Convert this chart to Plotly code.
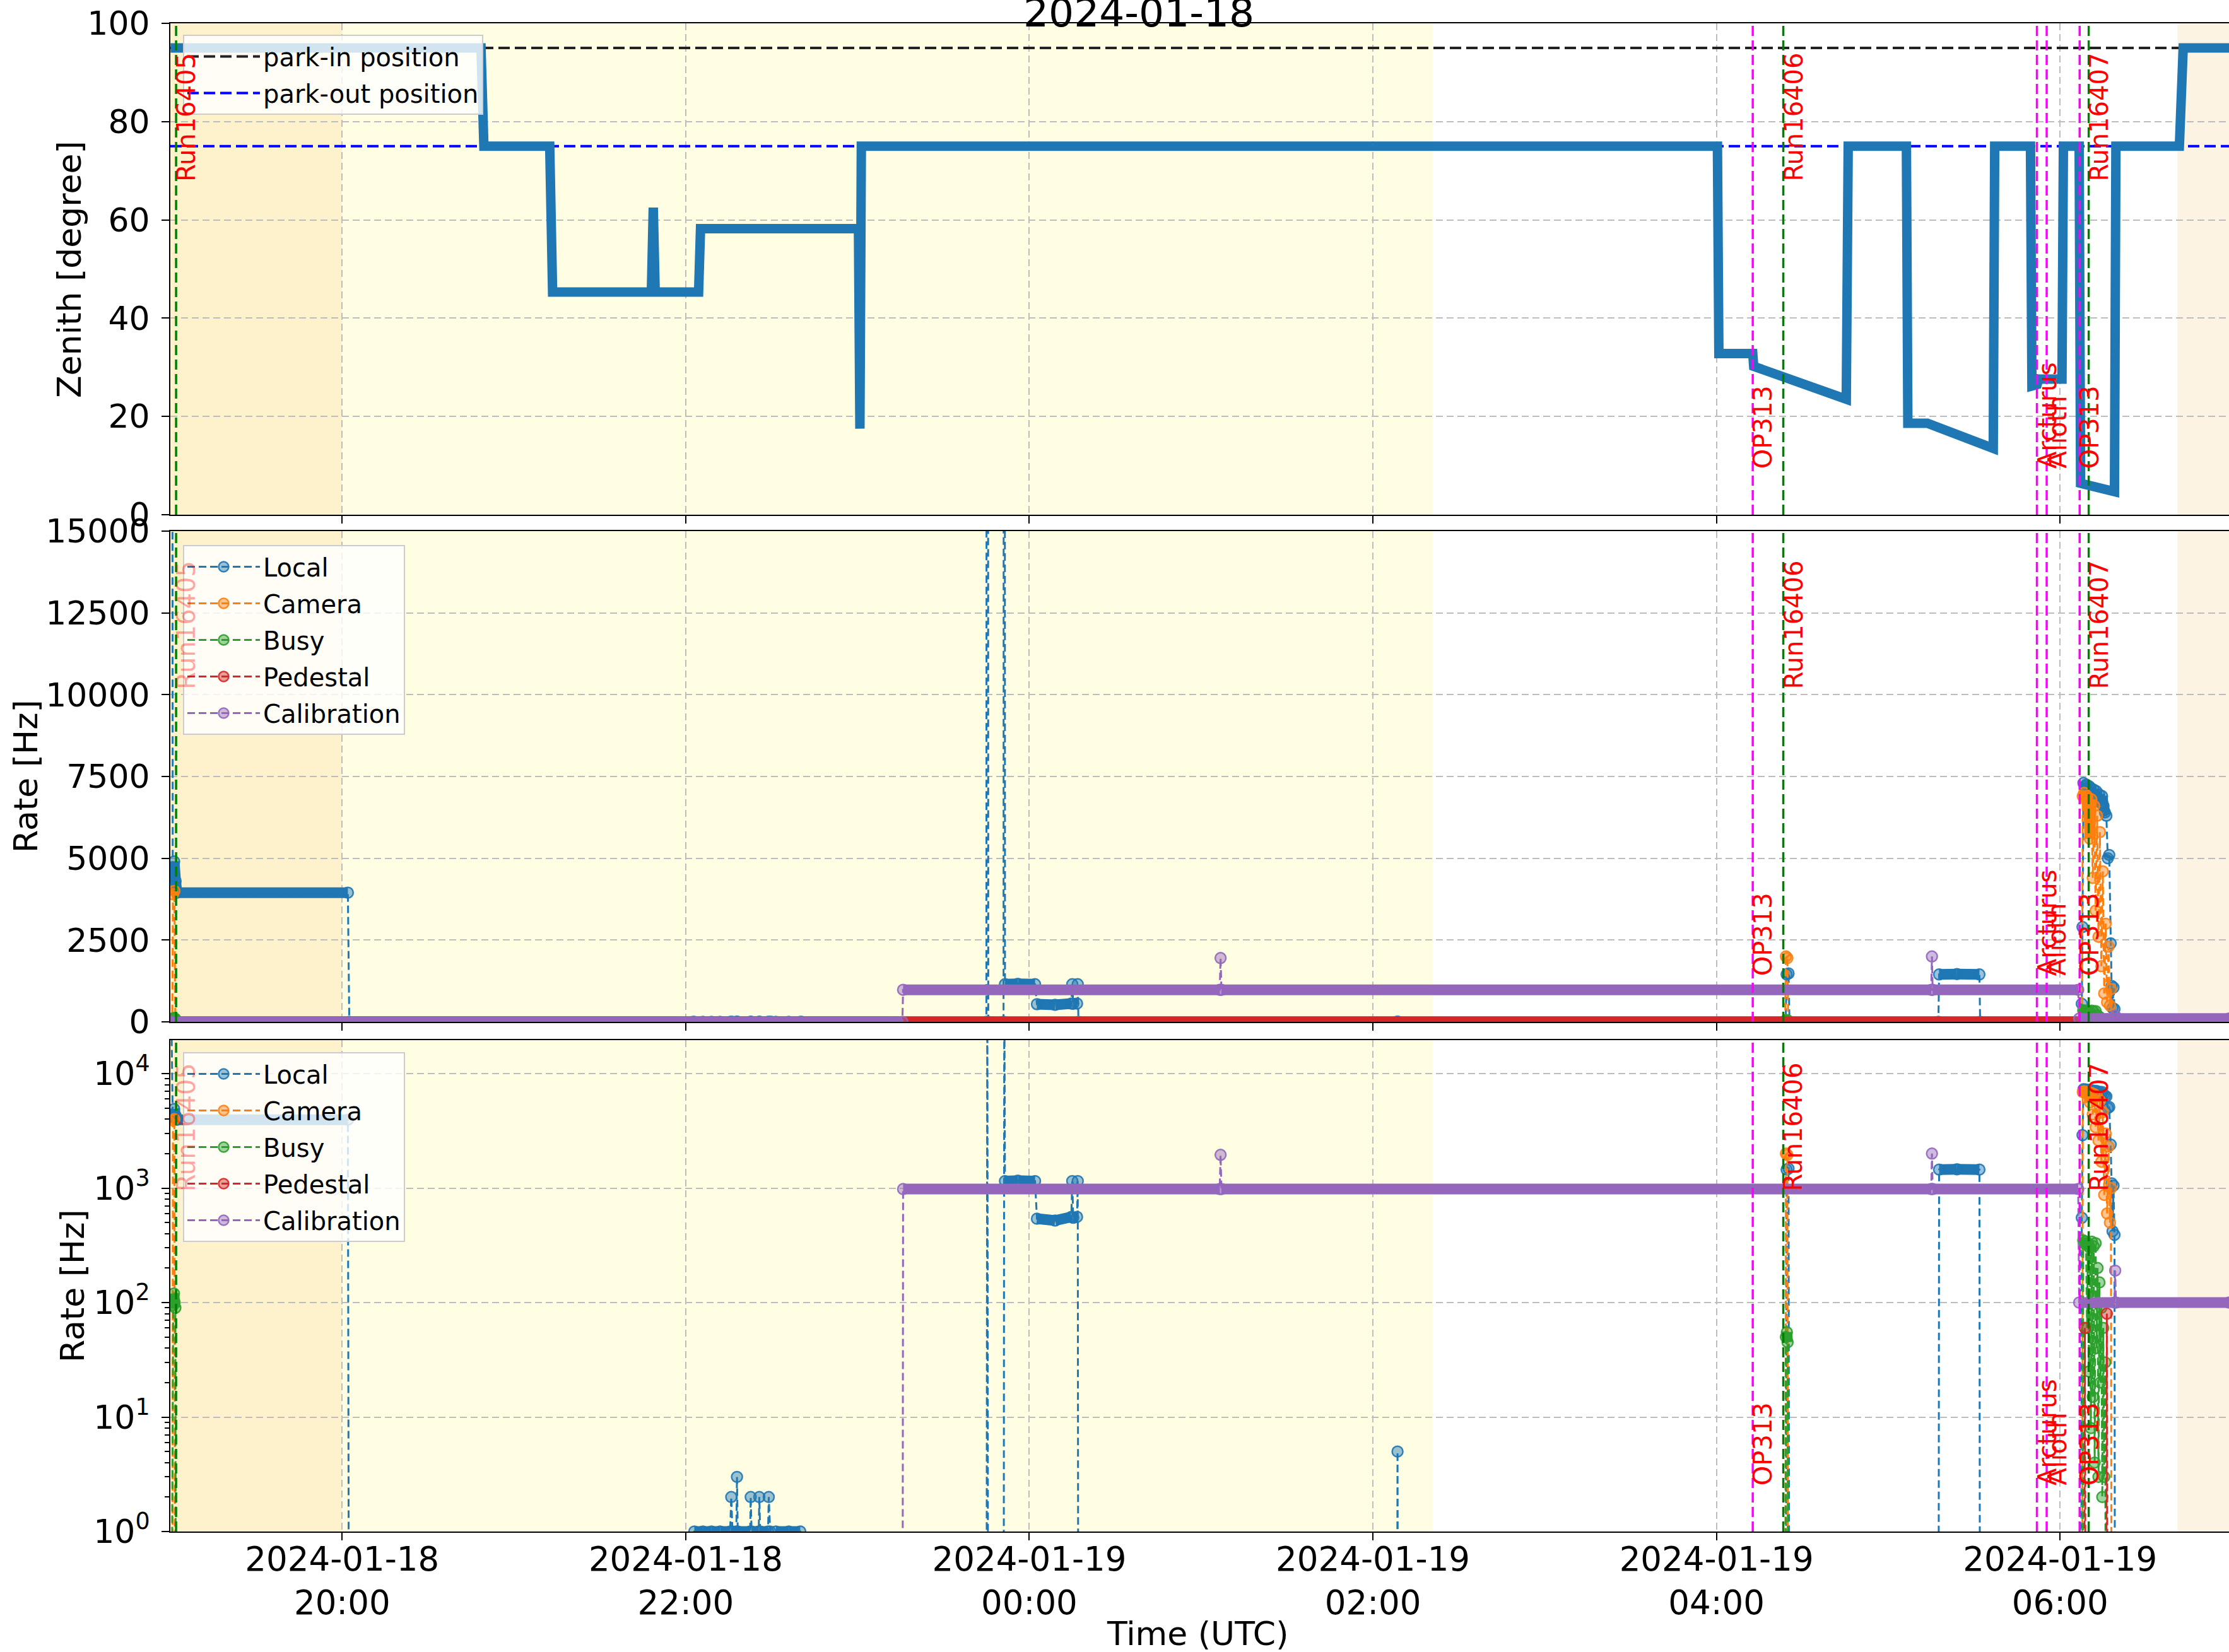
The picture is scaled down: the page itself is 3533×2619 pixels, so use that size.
import plotly.graph_objects as go


def _d(lst):
    return ["2024-01-" + s for s in lst]


# ---------------- data ----------------
X_RANGE = _d(["18 19:00:00", "19 06:59:00"])
TICK_TIMES = _d(["18 20:00", "18 22:00", "19 00:00", "19 02:00", "19 04:00", "19 06:00"])
TICK_LABELS = ["2024-01-18<br>20:00", "2024-01-18<br>22:00", "2024-01-19<br>00:00",
               "2024-01-19<br>02:00", "2024-01-19<br>04:00", "2024-01-19<br>06:00"]

SHADE_DUSK = _d(["18 18:50", "18 20:00"])
SHADE_NIGHT = _d(["18 20:00", "19 02:21"])
SHADE_DAWN = _d(["19 06:41", "19 07:10"])

RUN_TIMES = _d(["18 19:02:00", "19 04:23:20", "19 06:10:00"])
RUN_LABELS = ["Run16405", "Run16406", "Run16407"]
OBJ_TIMES = _d(["19 04:12:40", "19 05:51:55", "19 05:55:20", "19 06:06:50"])
OBJ_LABELS = ["OP313", "Arcturus", "Alioth", "OP313"]

PARK_IN_DEG = 95
PARK_OUT_DEG = 75

ZEN_T = _d(["18 19:00:05", "18 20:48:30", "18 20:49:30", "18 21:12:30", "18 21:13:30",
            "18 21:48:00", "18 21:48:40", "18 21:49:20", "18 22:04:30", "18 22:05:10",
            "18 23:00:20", "18 23:00:50", "18 23:01:20", "19 04:00:20", "19 04:00:50",
            "19 04:12:40", "19 04:13:00", "19 04:45:20", "19 04:46:00", "19 05:06:20",
            "19 05:06:50", "19 05:13:40", "19 05:36:40", "19 05:37:10", "19 05:49:40",
            "19 05:50:10", "19 05:52:00", "19 05:52:30", "19 06:00:40", "19 06:01:10",
            "19 06:06:40", "19 06:07:10", "19 06:19:00", "19 06:19:30", "19 06:41:40",
            "19 06:43:00", "19 07:00:00"])
ZEN_DEG = [95, 95, 75, 75, 45.3,
           45.3, 62.5, 45.3, 45.3, 58.2,
           58.2, 17.5, 75, 75, 32.8,
           32.8, 30.2, 23.5, 75, 75,
           18.6, 18.6, 13.5, 75, 75,
           26.2, 26.5, 27.6, 27.6, 75,
           75, 6.4, 4.7, 75, 75,
           95, 95]

LOCAL_T = _d(["18 19:00:05", "18 19:00:50", "18 19:01:20", "18 19:01:50", "18 19:02:20",
              "18 20:02:00", "18 20:02:30", "18 22:02:30", "18 22:03:00", "18 22:06:00",
              "18 22:09:00", "18 22:12:00", "18 22:15:30", "18 22:15:54", "18 22:16:20",
              "18 22:17:40", "18 22:17:54", "18 22:18:10", "18 22:22:30", "18 22:22:42",
              "18 22:23:00", "18 22:25:30", "18 22:25:42", "18 22:26:00", "18 22:28:45",
              "18 22:29:00", "18 22:29:30", "18 22:30:00", "18 22:31:30", "18 22:36:00",
              "18 22:40:00", "18 22:40:30", "18 23:45:00", "18 23:45:20", "18 23:45:40",
              "18 23:51:00", "18 23:51:15", "18 23:51:30", "18 23:56:00", "19 00:02:00",
              "19 00:02:40", "19 00:09:00", "19 00:14:40", "19 00:15:00", "19 00:15:20",
              "19 00:16:40", "19 00:16:55", "19 00:17:10", "19 02:08:20", "19 02:08:36",
              "19 02:08:52", "19 04:24:10", "19 04:24:30", "19 04:25:10", "19 04:25:30",
              "19 05:17:30", "19 05:17:45", "19 05:24:00", "19 05:31:50", "19 05:32:05",
              "19 06:07:20", "19 06:07:35", "19 06:07:50", "19 06:08:10", "19 06:08:40",
              "19 06:09:10", "19 06:09:40", "19 06:10:10", "19 06:10:40", "19 06:11:10",
              "19 06:11:40", "19 06:12:10", "19 06:12:40", "19 06:13:10", "19 06:13:40",
              "19 06:14:10", "19 06:14:40", "19 06:15:10", "19 06:15:40", "19 06:16:10",
              "19 06:16:40", "19 06:17:10", "19 06:17:40", "19 06:18:00", "19 06:18:20",
              "19 06:18:40", "19 06:19:00", "19 06:19:15", "19 06:59:00"])
LOCAL_HZ = [1e5, 4200, 4900, 4300, 3950,
            3950, 0, 0, 1, 1,
            1, 1, 1, 2, 1,
            1, 3, 1, 1, 2,
            1, 1, 2, 1, 1,
            2, 1, 0, 1, 1,
            1, 0, 0, 1e5, 0,
            0, 1e5, 1150, 1160, 1150,
            540, 520, 560, 1150, 550,
            560, 1150, 0, 0, 5,
            0, 0, 1450, 1480, 0,
            0, 1450, 1460, 1450, 0,
            0, 550, 2900, 7300, 7200,
            7250, 7100, 7200, 7150, 7000,
            7100, 6900, 7050, 6800, 6950,
            6700, 6900, 6600, 6400, 6300,
            5000, 5100, 2400, 1100, 420,
            1050, 390, 0, 0]

CAMERA_T = _d(["18 19:00:05", "18 19:00:40", "18 19:00:55", "18 19:01:25", "18 19:01:45",
               "19 04:24:00", "19 04:24:15", "19 04:24:45", "19 04:25:05", "19 06:07:40",
               "19 06:07:55", "19 06:08:25", "19 06:08:55", "19 06:09:25", "19 06:09:55",
               "19 06:10:25", "19 06:10:55", "19 06:11:25", "19 06:11:55", "19 06:12:25",
               "19 06:12:55", "19 06:13:25", "19 06:13:55", "19 06:14:25", "19 06:14:55",
               "19 06:15:25", "19 06:15:55", "19 06:16:25", "19 06:16:55", "19 06:17:25",
               "19 06:17:45", "19 06:18:05", "19 06:59:00"])
CAMERA_HZ = [0, 0, 3900, 4000, 0,
             0, 2000, 1950, 0, 0,
             6900, 7000, 6800, 6900, 6700,
             5600, 6800, 4400, 6600, 3400,
             6300, 2600, 5800, 1700, 4600,
             870, 3000, 600, 2300, 500,
             1000, 0, 0]

BUSY_T = _d(["18 19:00:05", "18 19:01:00", "18 19:01:15", "18 19:01:30", "18 19:01:45",
             "18 19:02:00", "19 04:24:00", "19 04:24:15", "19 04:24:35", "19 04:24:50",
             "19 04:25:05", "19 06:07:50", "19 06:08:05", "19 06:08:25", "19 06:08:45",
             "19 06:09:05", "19 06:09:25", "19 06:09:45", "19 06:10:05", "19 06:10:25",
             "19 06:10:45", "19 06:11:05", "19 06:11:25", "19 06:11:45", "19 06:12:05",
             "19 06:12:25", "19 06:12:45", "19 06:13:05", "19 06:13:25", "19 06:13:45",
             "19 06:14:05", "19 06:14:25", "19 06:14:45", "19 06:15:05", "19 06:15:25",
             "19 06:15:45", "19 06:16:05", "19 06:59:00"])
BUSY_HZ = [0, 95, 120, 100, 90,
           0, 0, 50, 55, 45,
           0, 0, 350, 330, 340,
           320, 60, 330, 25, 300,
           8, 340, 15, 310, 4,
           330, 40, 200, 3, 150,
           20, 90, 2, 60, 3,
           30, 0, 0]

PED_T = _d(["18 19:00:05", "19 06:08:20", "19 06:08:40", "19 06:09:00", "19 06:16:00",
            "19 06:16:20", "19 06:16:40", "19 06:59:00"])
PED_HZ = [0, 0, 60, 0, 0, 80, 0, 0]

CAL_T = _d(["18 19:00:05", "18 23:15:40", "18 23:15:55", "19 01:06:30", "19 01:06:48",
            "19 01:07:06", "19 05:15:00", "19 05:15:15", "19 05:15:30", "19 06:06:20",
            "19 06:06:40", "19 06:19:00", "19 06:19:15", "19 06:19:30", "19 06:59:00"])
CAL_HZ = [0, 0, 980, 980, 1950,
          980, 980, 2000, 980, 980,
          100, 100, 190, 100, 100]

SERIES_NAMES = ["Local", "Camera", "Busy", "Pedestal", "Calibration"]
SERIES_T = [LOCAL_T, CAMERA_T, BUSY_T, PED_T, CAL_T]
SERIES_HZ = [LOCAL_HZ, CAMERA_HZ, BUSY_HZ, PED_HZ, CAL_HZ]

# ---------------- style ----------------
W, H = 3533, 2619
FONT = "DejaVu Sans"
COLORS = ["#1f77b4", "#ff7f0e", "#2ca02c", "#d62728", "#9467bd"]
X0 = 270 / W
DOMAINS = [[1 - 816 / H, 1 - 37 / H], [1 - 1620 / H, 1 - 842 / H], [1 - 2428 / H, 1 - 1649 / H]]
GRID = "#bdbdbd"


def rgba(hexc, a):
    h = hexc.lstrip("#")
    return "rgba(%d,%d,%d,%.2f)" % (int(h[0:2], 16), int(h[2:4], 16), int(h[4:6], 16), a)


def band_xy(t, v):
    xs, ys = [], []
    for i in range(len(t) - 1):
        a, b = v[i], v[i + 1]
        same = (a == 0 and b == 0) or (a > 0 and b > 0 and max(a, b) / min(a, b) <= 1.25)
        if same:
            xs += [t[i], t[i + 1], None]
            ys += [a, b, None]
    return xs, ys


fig = go.Figure()

# Panel 1: park lines + zenith
fig.add_trace(go.Scatter(x=X_RANGE, y=[PARK_IN_DEG, PARK_IN_DEG], mode="lines",
                         line=dict(color="#222222", width=4, dash="18px,8px"),
                         name="park-in position", legend="legend", xaxis="x", yaxis="y",
                         legendgroup="pin"))
fig.add_trace(go.Scatter(x=X_RANGE, y=[PARK_OUT_DEG, PARK_OUT_DEG], mode="lines",
                         line=dict(color="#0000ff", width=4, dash="18px,8px"),
                         name="park-out position", legend="legend", xaxis="x", yaxis="y",
                         legendgroup="pout"))
fig.add_trace(go.Scatter(x=ZEN_T, y=ZEN_DEG, mode="lines",
                         line=dict(color="#1f77b4", width=15),
                         showlegend=False, xaxis="x", yaxis="y"))

# Panels 2, 3: rates
for p, (xa, ya, lg) in enumerate([("x2", "y2", "legend2"), ("x3", "y3", "legend3")]):
    for name, t, v, c in zip(SERIES_NAMES, SERIES_T, SERIES_HZ, COLORS):
        vv = list(v) if p == 0 else [x if x > 0 else 1e-3 for x in v]
        bx, by = band_xy(t, vv)
        fig.add_trace(go.Scatter(x=bx, y=by, mode="lines", line=dict(color=c, width=17),
                                 showlegend=False, xaxis=xa, yaxis=ya,
                                 legendgroup=lg + name, hoverinfo="skip"))
        fig.add_trace(go.Scatter(x=t, y=vv, mode="lines+markers",
                                 line=dict(color=c, width=3, dash="12px,6px"),
                                 marker=dict(symbol="circle", size=17, color=rgba(c, 0.45),
                                             line=dict(color=rgba(c, 0.9), width=2.5)),
                                 name=name, legend=lg, legendgroup=lg + name,
                                 xaxis=xa, yaxis=ya))

# ---------------- axes ----------------
axis_common = dict(showline=True, linecolor="black", linewidth=2, ticks="outside",
                   ticklen=12, tickwidth=2, tickcolor="black", showgrid=True,
                   gridcolor=GRID, gridwidth=2, griddash="11px,6px", zeroline=False,
                   automargin=False,
                   tickfont=dict(family=FONT, size=52, color="black"))

layout = dict(width=W, height=H, margin=dict(l=0, r=0, t=0, b=0),
              paper_bgcolor="white", plot_bgcolor="white", showlegend=True)

for i, (xn, yn) in enumerate([("xaxis", "yaxis"), ("xaxis2", "yaxis2"), ("xaxis3", "yaxis3")]):
    anchor_y = "y" if i == 0 else "y%d" % (i + 1)
    anchor_x = "x" if i == 0 else "x%d" % (i + 1)
    xa = dict(axis_common, domain=[X0, 1], anchor=anchor_y, type="date", range=X_RANGE,
              tickmode="array", tickvals=TICK_TIMES, ticktext=TICK_LABELS,
              showticklabels=(i == 2), mirror=True, ticklabelstandoff=-16,
              tickfont=dict(family=FONT, size=53, color="black"))
    if i > 0:
        xa["matches"] = "x"
    layout[xn] = xa
    ya = dict(axis_common, domain=DOMAINS[i], anchor=anchor_x, mirror=False,
              ticklabelstandoff=8)
    if i == 0:
        ya.update(range=[0, 100], tickmode="array", tickvals=[0, 20, 40, 60, 80, 100])
    elif i == 1:
        ya.update(range=[0, 15000], tickmode="array",
                  tickvals=[0, 2500, 5000, 7500, 10000, 12500, 15000],
                  ticktext=["0", "2500", "5000", "7500", "10000", "12500", "15000"])
    else:
        ya.update(type="log", range=[0, 4.292], tickmode="array",
                  tickvals=[1, 10, 100, 1000, 10000],
                  ticktext=["10<sup>0</sup>", "10<sup>1</sup>", "10<sup>2</sup>",
                            "10<sup>3</sup>", "10<sup>4</sup>"],
                  minor=dict(ticks="outside", ticklen=7, tickwidth=1.5, tickcolor="black",
                             showgrid=False, tickmode="array",
                             tickvals=[k * 10 ** e for e in range(0, 5) for k in range(2, 10)]))
    layout[yn] = ya

legend_common = dict(xanchor="left", yanchor="top", bgcolor="rgba(255,255,255,0.8)",
                     bordercolor="#cccccc", borderwidth=2,
                     font=dict(family=FONT, size=40, color="black"),
                     itemwidth=115, tracegroupgap=3)
layout["legend"] = dict(legend_common, x=290 / W, y=1 - 55 / H)
layout["legend2"] = dict(legend_common, x=290 / W, y=1 - 864 / H)
layout["legend3"] = dict(legend_common, x=290 / W, y=1 - 1668 / H)

shapes = []
annotations = []
for i in range(3):
    xr = "x" if i == 0 else "x%d" % (i + 1)
    yr = ("y" if i == 0 else "y%d" % (i + 1)) + " domain"
    for (a, b), col in [(SHADE_DUSK, "#fef2cd"), (SHADE_NIGHT, "#fffee3"), (SHADE_DAWN, "#fdf3e2")]:
        shapes.append(dict(type="rect", xref=xr, yref=yr, x0=a, x1=b, y0=0, y1=1,
                           fillcolor=col, line=dict(width=0), layer="below"))
    for t in OBJ_TIMES:
        shapes.append(dict(type="line", xref=xr, yref=yr, x0=t, x1=t, y0=0, y1=1,
                           line=dict(color="#ff00ff", width=3.5, dash="16px,7px"), layer="above"))
    for t in RUN_TIMES:
        shapes.append(dict(type="line", xref=xr, yref=yr, x0=t, x1=t, y0=0, y1=1,
                           line=dict(color="#008000", width=3.5, dash="16px,7px"), layer="above"))
    run_y = 0.955 if i == 2 else 0.941
    for k, (t, lab) in enumerate(zip(RUN_TIMES, RUN_LABELS)):
        # the first run label sits behind the semi-transparent legend box in panels 2 and 3
        col = "rgba(255,0,0,0.35)" if (k == 0 and i > 0) else "#ff0000"
        annotations.append(dict(x=t, y=run_y, xref=xr, yref=yr, text=lab, textangle=-90,
                                showarrow=False, xanchor="left", yanchor="top", borderpad=0,
                                xshift=-8, font=dict(family=FONT, size=40, color=col)))
    for t, lab in zip(OBJ_TIMES, OBJ_LABELS):
        annotations.append(dict(x=t, y=0.0924, xref=xr, yref=yr, text=lab, textangle=-90,
                                showarrow=False, xanchor="left", yanchor="bottom", borderpad=0,
                                xshift=-8, font=dict(family=FONT, size=40, color="#ff0000")))

for text, xc, yc in [("Zenith [degree]", 110, 427), ("Rate [Hz]", 41, 1231), ("Rate [Hz]", 115, 2038)]:
    annotations.append(dict(x=xc / W, y=1 - yc / H, xref="paper", yref="paper", text=text,
                            textangle=-90, showarrow=False, xanchor="center", yanchor="middle",
                            font=dict(family=FONT, size=52, color="black")))
annotations.append(dict(x=1898 / W, y=1 - 2590 / H, xref="paper", yref="paper",
                        text="Time (UTC)", showarrow=False, xanchor="center", yanchor="middle",
                        font=dict(family=FONT, size=52, color="black")))
annotations.append(dict(x=1805 / W, y=1 - 20 / H, xref="paper", yref="paper",
                        text="2024-01-18", showarrow=False, xanchor="center", yanchor="middle",
                        font=dict(family=FONT, size=63, color="black")))

layout["shapes"] = shapes
layout["annotations"] = annotations
fig.update_layout(**layout)

fig.write_html("out.html", config={"displayModeBar": False},
               post_script="document.body.style.margin='0px';document.body.style.padding='0px';")
